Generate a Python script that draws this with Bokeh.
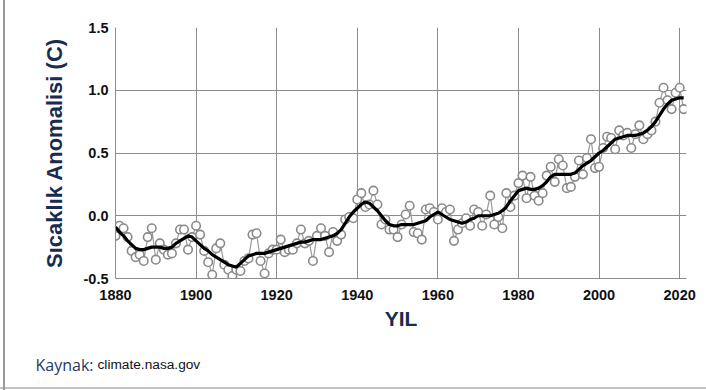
from bokeh.plotting import figure
from bokeh.layouts import column, row
from bokeh.models import Range1d, FixedTicker, PrintfTickFormatter
from bokeh.core.properties import value
from bokeh.embed import file_html
from bokeh.resources import INLINE

years = list(range(1880, 2022))
annual = [
    -0.16, -0.08, -0.10, -0.17, -0.28, -0.33, -0.31, -0.36, -0.17, -0.10,
    -0.35, -0.22, -0.27, -0.31, -0.30, -0.22, -0.11, -0.11, -0.27, -0.17,
    -0.08, -0.15, -0.28, -0.37, -0.47, -0.26, -0.22, -0.39, -0.43, -0.48,
    -0.43, -0.44, -0.36, -0.34, -0.15, -0.14, -0.36, -0.46, -0.30, -0.27,
    -0.27, -0.19, -0.29, -0.27, -0.27, -0.22, -0.11, -0.22, -0.20, -0.36,
    -0.16, -0.10, -0.16, -0.29, -0.13, -0.20, -0.15, -0.03, -0.01, -0.02,
    0.13, 0.18, 0.07, 0.09, 0.20, 0.09, -0.07, -0.03, -0.11, -0.11,
    -0.17, -0.07, 0.01, 0.08, -0.13, -0.14, -0.19, 0.05, 0.06, 0.03,
    -0.03, 0.06, 0.03, 0.05, -0.20, -0.11, -0.06, -0.02, -0.08, 0.05,
    0.03, -0.08, 0.01, 0.16, -0.07, -0.01, -0.10, 0.18, 0.07, 0.16,
    0.26, 0.32, 0.14, 0.31, 0.16, 0.12, 0.18, 0.32, 0.39, 0.27,
    0.45, 0.40, 0.22, 0.23, 0.31, 0.44, 0.33, 0.46, 0.61, 0.38,
    0.39, 0.54, 0.63, 0.62, 0.53, 0.68, 0.64, 0.66, 0.54, 0.65,
    0.72, 0.61, 0.65, 0.68, 0.75, 0.90, 1.02, 0.92, 0.85, 0.98,
    1.02, 0.85,
]
smooth = [
    -0.09, -0.13, -0.16, -0.20, -0.23, -0.26, -0.27, -0.27, -0.26, -0.25,
    -0.25, -0.25, -0.26, -0.26, -0.25, -0.22, -0.20, -0.18, -0.16, -0.17,
    -0.20, -0.23, -0.26, -0.28, -0.31, -0.33, -0.35, -0.37, -0.39, -0.40,
    -0.41, -0.38, -0.35, -0.32, -0.31, -0.30, -0.30, -0.30, -0.29, -0.28,
    -0.27, -0.26, -0.25, -0.24, -0.23, -0.22, -0.21, -0.21, -0.20, -0.19,
    -0.19, -0.19, -0.18, -0.17, -0.16, -0.14, -0.11, -0.06, -0.01, 0.03,
    0.06, 0.09, 0.11, 0.10, 0.07, 0.04, 0.00, -0.04, -0.07, -0.08,
    -0.08, -0.07, -0.07, -0.07, -0.07, -0.06, -0.05, -0.04, -0.01, 0.01,
    0.03, 0.01, -0.01, -0.03, -0.04, -0.05, -0.06, -0.05, -0.03, -0.02,
    0.00, 0.00, 0.00, 0.00, 0.01, 0.02, 0.04, 0.07, 0.12, 0.16,
    0.20, 0.21, 0.22, 0.21, 0.21, 0.22, 0.24, 0.27, 0.31, 0.33,
    0.33, 0.33, 0.33, 0.33, 0.34, 0.37, 0.40, 0.42, 0.44, 0.47,
    0.50, 0.52, 0.55, 0.58, 0.61, 0.62, 0.63, 0.64, 0.64, 0.64,
    0.65, 0.66, 0.68, 0.71, 0.75, 0.80, 0.85, 0.89, 0.92, 0.93,
    0.94, 0.94,
]
x_ticks = [1880, 1900, 1920, 1940, 1960, 1980, 2000, 2020]
y_ticks = [-0.5, 0.0, 0.5, 1.0, 1.5]
source_parts = ["Kaynak:", "climate.nasa.gov"]

NAVY = "#1a2b50"
SANS = "Liberation Sans"

p = figure(width=706, height=340, output_backend="svg", toolbar_location=None,
           x_range=Range1d(1880, 2021.7), y_range=Range1d(-0.5, 1.5),
           min_border_left=115, min_border_right=20, min_border_top=27,
           min_border_bottom=62)
p.outline_line_color = None
p.background_fill_color = "white"
p.border_fill_color = None

p.line(years, annual, line_color="#9a9a9a", line_width=1.2)
p.scatter(years, annual, size=8.5, marker="circle", fill_color="white",
          line_color="#8a8a8a", line_width=1.6)
p.line(years, smooth, line_color="black", line_width=3.2)

for ax in (p.xaxis, p.yaxis):
    ax.axis_line_color = "#8c8c8c"
    ax.axis_line_width = 1
    ax.major_tick_line_color = None
    ax.minor_tick_line_color = None
    ax.major_tick_out = 0
    ax.major_tick_in = 0
    ax.major_label_text_font = SANS
    ax.major_label_text_font_style = "bold"
    ax.major_label_text_font_size = "14.5px"
    ax.major_label_text_color = "#111111"
    ax.axis_label_text_color = NAVY
    ax.axis_label_text_font_style = "bold"
    ax.axis_label_text_font = SANS

p.xaxis.ticker = FixedTicker(ticks=x_ticks)
p.yaxis.ticker = FixedTicker(ticks=y_ticks)
p.yaxis.formatter = PrintfTickFormatter(format="%.1f")
p.xaxis.major_label_standoff = 11
p.yaxis.major_label_standoff = 7

p.xaxis.axis_label = "YIL"
p.xaxis.axis_label_text_font_size = "21px"
p.xaxis.axis_label_standoff = 4

p.yaxis.axis_label = "Sıcaklık Anomalisi (C)"
p.yaxis.axis_label_text_font_size = "22px"
p.yaxis.axis_label_standoff = 14

p.xgrid.ticker = FixedTicker(ticks=x_ticks)
p.ygrid.ticker = FixedTicker(ticks=y_ticks)
p.grid.grid_line_color = "#8c8c8c"
p.grid.grid_line_width = 1

# footer strip with the source note (pixel-like coordinates, y downwards)
f = figure(width=706, height=50, output_backend="svg", toolbar_location=None,
           x_range=Range1d(0, 706), y_range=Range1d(50, 0),
           min_border=0, x_axis_location=None, y_axis_location=None)
f.outline_line_color = None
f.grid.visible = False
f.background_fill_color = None
f.border_fill_color = None
f.text(x=[35], y=[24], text=[source_parts[0]], text_font=value("Open Sans"),
       text_font_size="16px", text_color="#1f3864", text_baseline="alphabetic")
f.text(x=[97], y=[24], text=[source_parts[1]], text_font=value(SANS),
       text_font_size="13.7px", text_color="#111111", text_baseline="alphabetic")

frame_css = {
    "background": ("linear-gradient(#9a9a9a, #9a9a9a) 3px 0 / 2px 100% no-repeat, "
                   "linear-gradient(#c4c4c4, #c4c4c4) 0 387px / 100% 2px no-repeat, "
                   "white"),
}
layout = column(p, row(f), spacing=0, styles=frame_css)
open("out.html", "w").write(file_html(layout, INLINE))
